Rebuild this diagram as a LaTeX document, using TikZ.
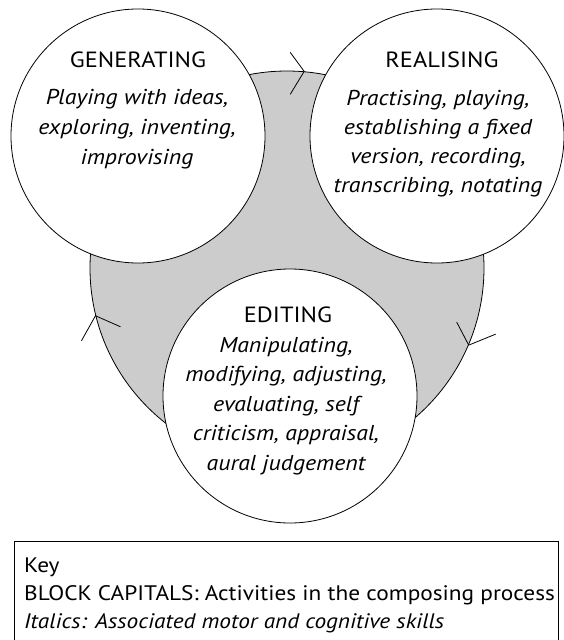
\documentclass[tikz,border=0pt]{standalone}
\usepackage{fontspec}
\setmainfont{PT Sans}[FakeStretch=1.11]
\usetikzlibrary{calc}
\definecolor{cyclegray}{HTML}{CCCCCC}
\begin{document}
\begin{tikzpicture}[x=1pt,y=-1pt,
  disc/.style={circle,draw=black,line width=0.8pt,inner sep=0pt,minimum size=#1},
  title/.style={font=\fontsize{22}{30}\selectfont,anchor=base,inner sep=0pt},
  body/.style={font=\fontsize{21.5}{#1}\selectfont\itshape,align=center,anchor=base,inner sep=0pt},
  tick/.style={line width=0.8pt}]
\useasboundingbox (0,0) rectangle (564,640);
\node[disc=394pt,fill=cyclegray] (cycle) at (287,268) {};
\node[disc=254pt,fill=white] (gen) at (138,136) {};
\node[disc=254pt,fill=white] (real) at (437,136) {};
\node[disc=254pt,fill=white] (edit) at (290,396) {};
% cycle arrow ticks
\draw[tick] ($(cycle.85.6)+(-14,-19)$) -- (cycle.85.6) -- ++(-14,23);
\draw[tick] ($(cycle.194.7)+(25,11)$) -- (cycle.194.7) -- ++(-14,25);
\draw[tick] ($(cycle.337.7)+(-12,-23)$) -- (cycle.337.7) -- ++(27,-11);
% texts (base anchor = baseline of last line)
\node[title] (gent) at (138,67) {GENERATING};
\node[body=30] (genb) at (137,164) {Playing with ideas,\\exploring, inventing,\\improvising};
\node[title] (realt) at (442,67) {REALISING};
\node[body=29] (realb) at (438,192) {Practising, playing,\\establishing a fixed\\version, recording,\\transcribing, notating};
\node[title] (editt) at (288,322) {EDITING};
\node[body=29.5] (editb) at (286,470) {Manipulating,\\modifying, adjusting,\\evaluating, self\\criticism, appraisal,\\aural judgement};
% key
\node[draw,line width=0.8pt,minimum width=544pt,minimum height=130pt,anchor=north west,inner sep=0pt] (keybox) at (14,541) {};
\node[anchor=base west,inner sep=0pt,align=left,font=\fontsize{21}{28}\selectfont] (keytext) at (24,628) {Key\\BLOCK CAPITALS: Activities in the composing process\\\textit{Italics: Associated motor and cognitive skills}};
\end{tikzpicture}
\end{document}
